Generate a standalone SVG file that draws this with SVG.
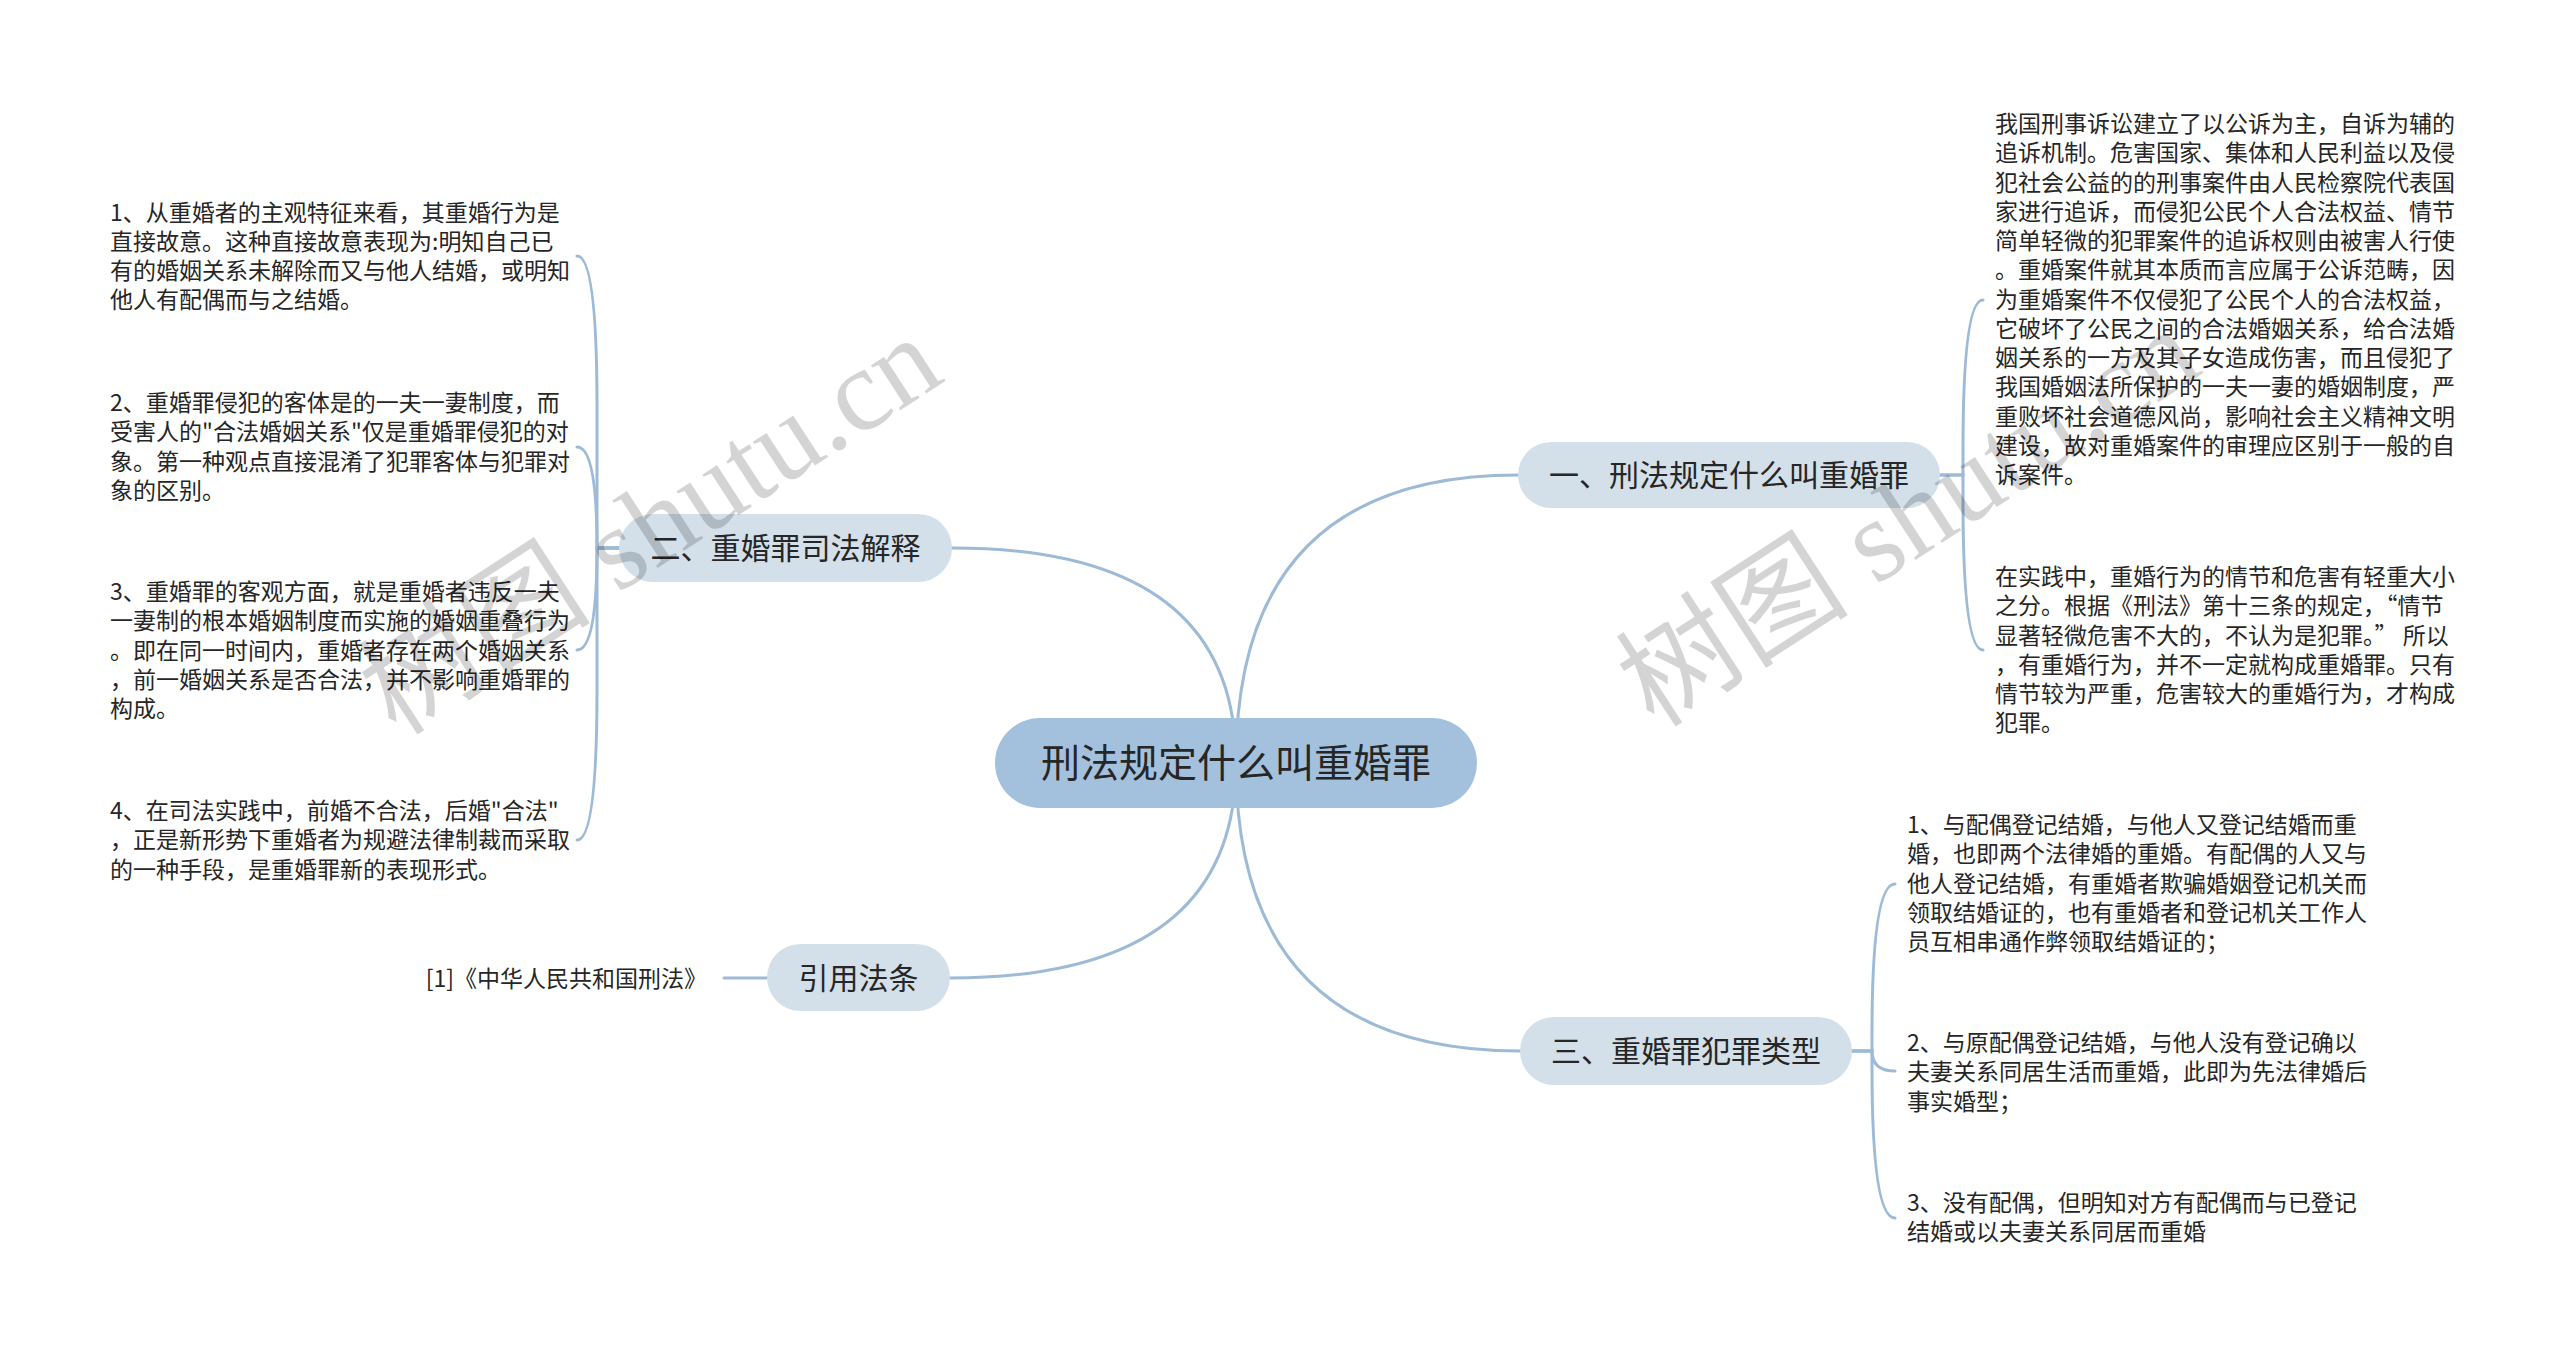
<svg xmlns="http://www.w3.org/2000/svg" width="2560" height="1357" viewBox="0 0 2560 1357">
<style>
.bg{fill:#ffffff}
.line{fill:none;stroke:#9dbad6;stroke-width:3;stroke-linecap:round}
.root{fill:#a3c1dc}
.topic{fill:#d3dfe9}
.t{font-family:"Noto Sans CJK SC","Liberation Sans",sans-serif;fill:#262626}
.rt{font-size:39px;text-anchor:middle}
.tt{font-size:30px;text-anchor:middle}
.lf{font-size:23px}
.wm{font-family:"Liberation Serif","Noto Sans CJK SC",serif;font-size:117px;fill:#000;fill-opacity:0.17;text-anchor:middle}
</style>
<rect class="bg" x="0" y="0" width="2560" height="1357"/>
<g id="connectors">
<path class="line" d="M1236 763 Q1236 475 1518 475"/>
<path class="line" d="M1236 763 Q1236 548 952 548"/>
<path class="line" d="M1236 763 Q1236 1051 1520 1051"/>
<path class="line" d="M1236 763 Q1236 978 950 978"/>
<path class="line" d="M1940 475 H1963 V450 Q1963 300 1983 300"/>
<path class="line" d="M1940 475 H1963 V500 Q1963 650 1983 650"/>
<path class="line" d="M619 548 H597 V406 Q597 256 577 256"/>
<path class="line" d="M619 548 H597 Q597 447 577 447"/>
<path class="line" d="M619 548 H597 Q597 650 577 650"/>
<path class="line" d="M619 548 H597 V690 Q597 840 577 840"/>
<path class="line" d="M1852 1051 H1872 V1034 Q1872 884 1895 884"/>
<path class="line" d="M1852 1051 H1872 Q1872 1071 1895 1071"/>
<path class="line" d="M1852 1051 H1872 V1068 Q1872 1218 1895 1218"/>
<path class="line" d="M767 978 H724"/>
</g>
<g id="root">
<rect class="root" x="995" y="718" width="482" height="90" rx="45"/>
<text class="t rt" x="1236" y="777">刑法规定什么叫重婚罪</text>
</g>
<g id="topic1">
<rect class="topic" x="1518" y="442" width="422" height="66" rx="33"/>
<text class="t tt" x="1729" y="486">一、刑法规定什么叫重婚罪</text>
</g>
<g id="topic2">
<rect class="topic" x="619" y="514" width="333" height="68" rx="34"/>
<text class="t tt" x="785.5" y="559">二、重婚罪司法解释</text>
</g>
<g id="topic3">
<rect class="topic" x="1520" y="1017" width="332" height="68" rx="34"/>
<text class="t tt" x="1686" y="1062">三、重婚罪犯罪类型</text>
</g>
<g id="topic4">
<rect class="topic" x="767" y="944" width="183" height="67" rx="33.5"/>
<text class="t tt" x="858.5" y="989">引用法条</text>
</g>
<g id="leaf1a">
<text class="t lf" x="1995" y="132"><tspan x="1995">我国刑事诉讼建立了以公诉为主，自诉为辅的</tspan><tspan x="1995" dy="29.25">追诉机制。危害国家、集体和人民利益以及侵</tspan><tspan x="1995" dy="29.25">犯社会公益的的刑事案件由人民检察院代表国</tspan><tspan x="1995" dy="29.25">家进行追诉，而侵犯公民个人合法权益、情节</tspan><tspan x="1995" dy="29.25">简单轻微的犯罪案件的追诉权则由被害人行使</tspan><tspan x="1995" dy="29.25">。重婚案件就其本质而言应属于公诉范畴，因</tspan><tspan x="1995" dy="29.25">为重婚案件不仅侵犯了公民个人的合法权益，</tspan><tspan x="1995" dy="29.25">它破坏了公民之间的合法婚姻关系，给合法婚</tspan><tspan x="1995" dy="29.25">姻关系的一方及其子女造成伤害，而且侵犯了</tspan><tspan x="1995" dy="29.25">我国婚姻法所保护的一夫一妻的婚姻制度，严</tspan><tspan x="1995" dy="29.25">重败坏社会道德风尚，影响社会主义精神文明</tspan><tspan x="1995" dy="29.25">建设，故对重婚案件的审理应区别于一般的自</tspan><tspan x="1995" dy="29.25">诉案件。</tspan></text>
</g>
<g id="leaf1b">
<text class="t lf" x="1995" y="585"><tspan x="1995">在实践中，重婚行为的情节和危害有轻重大小</tspan><tspan x="1995" dy="29.25">之分。根据《刑法》第十三条的规定，“情节</tspan><tspan x="1995" dy="29.25">显著轻微危害不大的，不认为是犯罪。” 所以</tspan><tspan x="1995" dy="29.25">，有重婚行为，并不一定就构成重婚罪。只有</tspan><tspan x="1995" dy="29.25">情节较为严重，危害较大的重婚行为，才构成</tspan><tspan x="1995" dy="29.25">犯罪。</tspan></text>
</g>
<g id="leaf2a">
<text class="t lf" x="110" y="220.5"><tspan x="110">1、从重婚者的主观特征来看，其重婚行为是</tspan><tspan x="110" dy="29.25">直接故意。这种直接故意表现为:明知自己已</tspan><tspan x="110" dy="29.25">有的婚姻关系未解除而又与他人结婚，或明知</tspan><tspan x="110" dy="29.25">他人有配偶而与之结婚。</tspan></text>
</g>
<g id="leaf2b">
<text class="t lf" x="110" y="411"><tspan x="110">2、重婚罪侵犯的客体是的一夫一妻制度，而</tspan><tspan x="110" dy="29.25">受害人的"合法婚姻关系"仅是重婚罪侵犯的对</tspan><tspan x="110" dy="29.25">象。第一种观点直接混淆了犯罪客体与犯罪对</tspan><tspan x="110" dy="29.25">象的区别。</tspan></text>
</g>
<g id="leaf2c">
<text class="t lf" x="110" y="600"><tspan x="110">3、重婚罪的客观方面，就是重婚者违反一夫</tspan><tspan x="110" dy="29.25">一妻制的根本婚姻制度而实施的婚姻重叠行为</tspan><tspan x="110" dy="29.25">。即在同一时间内，重婚者存在两个婚姻关系</tspan><tspan x="110" dy="29.25">，前一婚姻关系是否合法，并不影响重婚罪的</tspan><tspan x="110" dy="29.25">构成。</tspan></text>
</g>
<g id="leaf2d">
<text class="t lf" x="110" y="819"><tspan x="110">4、在司法实践中，前婚不合法，后婚"合法"</tspan><tspan x="110" dy="29.25">，正是新形势下重婚者为规避法律制裁而采取</tspan><tspan x="110" dy="29.25">的一种手段，是重婚罪新的表现形式。</tspan></text>
</g>
<g id="leaf3a">
<text class="t lf" x="1907" y="833"><tspan x="1907">1、与配偶登记结婚，与他人又登记结婚而重</tspan><tspan x="1907" dy="29.25">婚，也即两个法律婚的重婚。有配偶的人又与</tspan><tspan x="1907" dy="29.25">他人登记结婚，有重婚者欺骗婚姻登记机关而</tspan><tspan x="1907" dy="29.25">领取结婚证的，也有重婚者和登记机关工作人</tspan><tspan x="1907" dy="29.25">员互相串通作弊领取结婚证的；</tspan></text>
</g>
<g id="leaf3b">
<text class="t lf" x="1907" y="1051"><tspan x="1907">2、与原配偶登记结婚，与他人没有登记确以</tspan><tspan x="1907" dy="29.25">夫妻关系同居生活而重婚，此即为先法律婚后</tspan><tspan x="1907" dy="29.25">事实婚型；</tspan></text>
</g>
<g id="leaf3c">
<text class="t lf" x="1907" y="1211"><tspan x="1907">3、没有配偶，但明知对方有配偶而与已登记</tspan><tspan x="1907" dy="29.25">结婚或以夫妻关系同居而重婚</tspan></text>
</g>
<g id="leaf4a">
<text class="t lf" x="707" y="987" text-anchor="end">[1]《中华人民共和国刑法》</text>
</g>
<g id="watermark">
<text class="wm" transform="translate(650 525) rotate(-33)" y="40">树图 shutu.cn</text>
<text class="wm" transform="translate(1908 517) rotate(-33)" y="40">树图 shutu.cn</text>
</g>
</svg>
